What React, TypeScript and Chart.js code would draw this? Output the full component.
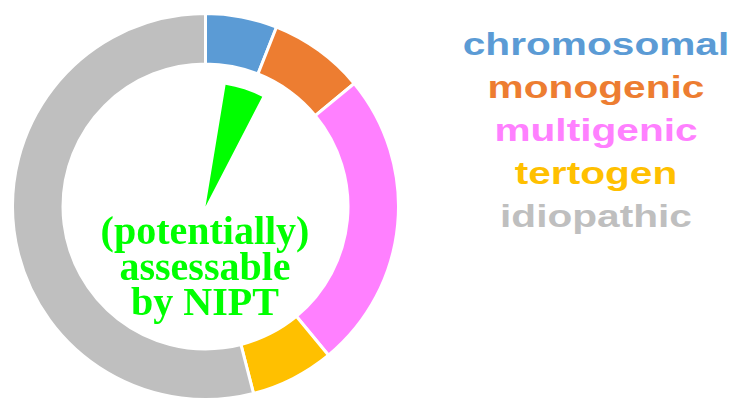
import React, { useEffect, useRef } from "react";
import { Chart, registerables } from "chart.js";

Chart.register(...registerables);

const categories = ["chromosomal", "monogenic", "multigenic", "tertogen", "idiopathic"];
const shares = [6, 8, 25, 7, 54];
const colors = ["#5B9BD5", "#ED7D31", "#FF80FF", "#FFC000", "#BFBFBF"];
const nipt = [2.6, 5, 92.4];
const niptColors = ["rgba(0,0,0,0)", "#00FF00", "rgba(0,0,0,0)"];
const centerLines = ["(potentially)", "assessable", "by NIPT"];

export default function App() {
  const ref = useRef<HTMLCanvasElement | null>(null);
  useEffect(() => {
    if (!ref.current) return;
    const chart = new Chart(ref.current, {
      type: "doughnut",
      data: {
        labels: categories,
        datasets: [
          {
            data: shares,
            backgroundColor: colors,
            borderColor: "#ffffff",
            borderWidth: 3,
            weight: 50.5,
          },
          {
            data: [1],
            backgroundColor: ["rgba(0,0,0,0)"],
            borderWidth: 0,
            weight: 19,
          },
          {
            data: nipt,
            backgroundColor: niptColors,
            borderWidth: 0,
            weight: 123.5,
          },
        ],
      },
      options: {
        responsive: false,
        animation: false,
        events: [],
        cutout: 0,
        plugins: { legend: { display: false }, tooltip: { enabled: false } },
      },
    });
    return () => chart.destroy();
  }, []);

  return (
    <div
      style={{
        position: "fixed",
        left: 0,
        top: 0,
        width: 738,
        height: 398,
        overflow: "hidden",
        background: "#ffffff",
      }}
    >
      <canvas
        ref={ref}
        width={389}
        height={389}
        style={{ position: "absolute", left: 11, top: 12, width: 389, height: 389 }}
      />
      <div
        style={{
          position: "absolute",
          left: 55,
          top: 213,
          width: 300,
          textAlign: "center",
          fontFamily: "'Liberation Serif', 'Times New Roman', serif",
          fontWeight: "bold",
          fontSize: 40,
          lineHeight: "35.5px",
          color: "#00FF00",
        }}
      >
        {centerLines.map((l) => (
          <div key={l}>{l}</div>
        ))}
      </div>
      <div
        style={{
          position: "absolute",
          left: 446,
          top: 23,
          width: 300,
          textAlign: "center",
          fontFamily: "'Liberation Sans', Arial, sans-serif",
          fontWeight: "bold",
          fontSize: 32,
          lineHeight: "43px",
          transform: "scaleX(1.27)",
          transformOrigin: "150px 0",
        }}
      >
        {categories.map((c, i) => (
          <div key={c} style={{ color: colors[i] }}>
            {c}
          </div>
        ))}
      </div>
    </div>
  );
}
